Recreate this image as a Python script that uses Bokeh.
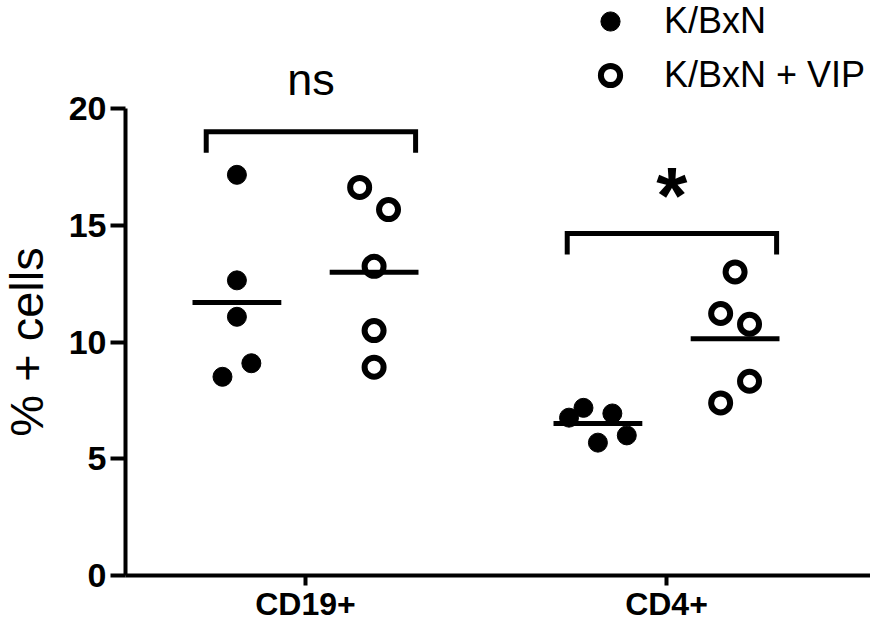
import math
import numpy as np
from bokeh.plotting import figure
from bokeh.models import Range1d, FixedTicker, Legend, LegendItem
from bokeh.core.properties import value
from bokeh.embed import file_html
from bokeh.resources import INLINE

# ---- data ----
groups = ["CD19+", "CD4+"]
group_pos = [1, 2]
kbxn_cd19 = [17.16, 12.64, 11.08, 9.09, 8.51]
kbxn_cd4 = [6.76, 7.18, 6.94, 5.69, 6.00]
vip_cd19 = [16.62, 15.67, 13.24, 10.49, 8.92]
vip_cd4 = [13.00, 11.22, 10.76, 8.32, 7.39]
significance = ["ns", "*"]
bracket_top = [19.0, 14.65]
y_ticks = [0, 5, 10, 15, 20]
y_title = "% + cells"

# ---- layout helpers (beeswarm jitter steps, not data) ----
jit_kbxn_cd19 = [0, 0, 0, 1, -1]
jit_kbxn_cd4 = [-2, -1, 1, 0, 2]
jit_vip_cd19 = [-1, 1, 0, 0, 0]
jit_vip_cd4 = [0, -1, 1, 1, -1]
STEP = 0.04
OFF = 0.19
HALF = 0.123

FONT = "Liberation Sans"

W, H = 870, 621
Y0_PX, Y20_PX = 575, 108
PX_X = 361.0                       # px per category unit
PX_Y = (Y0_PX - Y20_PX) / 20.0     # px per y unit
x_start = 1 - 305 / PX_X
x_end = 1 + (W - 305) / PX_X
x_axis_at = 1 - 180 / PX_X
y_top = 20 + Y20_PX / PX_Y
y_bot = -(H - Y0_PX) / PX_Y

p = figure(width=W, height=H, output_backend="svg", toolbar_location=None,
           x_range=Range1d(x_start, x_end), y_range=Range1d(y_bot, y_top),
           min_border_left=0, min_border_right=0, min_border_top=0,
           min_border_bottom=0)
p.outline_line_color = None
p.grid.visible = False
p.background_fill_color = "white"
p.border_fill_color = "white"

def xs(center, jit, side):
    return [center + side * OFF + j * STEP for j in jit]

k_x = xs(group_pos[0], jit_kbxn_cd19, -1) + xs(group_pos[1], jit_kbxn_cd4, -1)
k_y = kbxn_cd19 + kbxn_cd4
v_x = xs(group_pos[0], jit_vip_cd19, 1) + xs(group_pos[1], jit_vip_cd4, 1)
v_y = vip_cd19 + vip_cd4

r_k = p.scatter(x=k_x, y=k_y, size=19, fill_color="black", line_color="black", line_width=1)
r_v = p.scatter(x=v_x, y=v_y, size=19, fill_color="white", line_color="black", line_width=6)

# means
means_k = [float(np.mean(kbxn_cd19)), float(np.mean(kbxn_cd4))]
means_v = [float(np.mean(vip_cd19)), float(np.mean(vip_cd4))]
ck = [g - OFF for g in group_pos]
cv = [g + OFF for g in group_pos]
p.segment(x0=[c - HALF for c in ck + cv], x1=[c + HALF for c in ck + cv],
          y0=means_k + means_v, y1=means_k + means_v, line_color="black", line_width=5)

# brackets
bx = [[g - 0.275, g - 0.275, g + 0.305, g + 0.305] for g in group_pos]
by = [[t - 0.9, t, t, t - 0.9] for t in bracket_top]
p.multi_line(xs=bx, ys=by, line_color="black", line_width=5, line_join="miter")
mid = [g + 0.015 for g in group_pos]
p.text(x=[mid[0]], y=[bracket_top[0] + 2.26], text=[significance[0]],
       text_font=value(FONT), text_font_size=value("45px"), text_align="center",
       text_baseline="alphabetic", text_color="black")
p.text(x=[mid[1]], y=[bracket_top[1] + 1.64], text=[significance[1]],
       text_font=value(FONT), text_font_size=value("80px"), text_font_style="bold",
       text_align="center", text_baseline="alphabetic", text_color="black")

# y-axis title (rotated), centred on the 0-20 span of the axis
p.text(x=[x_start + 26 / PX_X], y=[10], text=[y_title], angle=math.pi / 2,
       text_font=value(FONT), text_font_size=value("47px"), text_align="center",
       text_baseline="middle", text_color="black")

# axes (drawn at fixed data positions inside the frame)
for ax in (p.xaxis[0], p.yaxis[0]):
    ax.axis_line_width = 4
    ax.axis_line_color = "black"
    ax.major_tick_line_width = 4
    ax.major_tick_line_color = "black"
    ax.major_tick_in = 0
    ax.minor_tick_in = 0
    ax.minor_tick_out = 0
    ax.major_label_text_font = FONT
    ax.major_label_text_font_style = "bold"
    ax.major_label_text_color = "black"

p.yaxis.fixed_location = x_axis_at
p.yaxis.ticker = FixedTicker(ticks=y_ticks)
p.yaxis.bounds = (0, 20)
p.yaxis.major_tick_out = 15
p.yaxis.major_label_standoff = 4
p.yaxis.major_label_text_font_size = "34px"

p.xaxis.fixed_location = 0
p.xaxis.bounds = (x_axis_at, x_end)
p.xaxis.ticker = FixedTicker(ticks=group_pos)
p.xaxis.major_label_overrides = {g: n for g, n in zip(group_pos, groups)}
p.xaxis.major_tick_out = 10
p.xaxis.major_label_standoff = 0
p.xaxis.major_label_text_font_size = "32px"

legend = Legend(items=[LegendItem(label="K/BxN", renderers=[r_k]),
                       LegendItem(label="K/BxN + VIP", renderers=[r_v])],
                location=(586, H - 99), glyph_width=48, glyph_height=48,
                spacing=6, label_standoff=30, padding=0, margin=0,
                border_line_color=None, background_fill_alpha=0,
                label_text_font=FONT, label_text_font_size="36px", label_text_color="black")
p.add_layout(legend)

open("out.html", "w").write(file_html(p, INLINE))
